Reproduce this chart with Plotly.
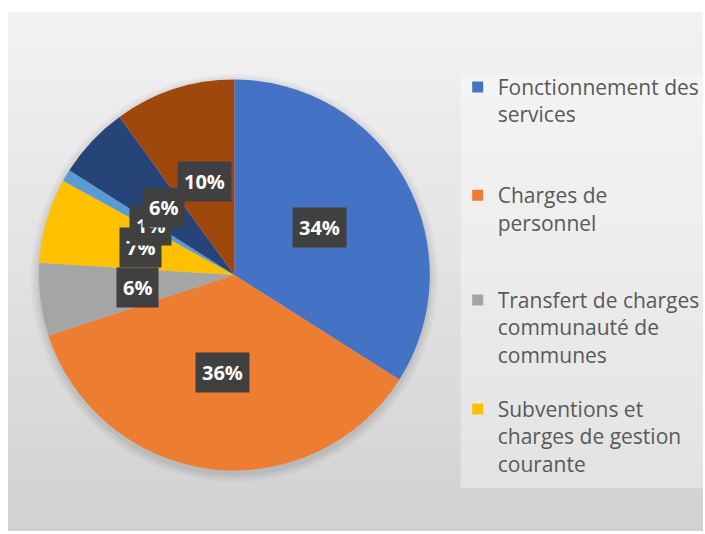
import numpy as np
import plotly.graph_objects as go

# ---------------- data ----------------
categories = [
    "Fonctionnement des services",
    "Charges de personnel",
    "Transfert de charges communauté de communes",
    "Subventions et charges de gestion courante",
    "Charges financières",
    "Atténuations de produits",
    "Virement à la section d'investissement",
]
values = [34, 36, 6, 7, 1, 6, 10]
legend_labels = [
    "Fonctionnement des<br>services",
    "Charges de<br>personnel",
    "Transfert de charges<br>communauté de<br>communes",
    "Subventions et<br>charges de gestion<br>courante",
]
colors = ["#4472C4", "#ED7D31", "#A5A5A5", "#FFC000", "#5B9BD5", "#264478", "#9E480E"]

# ---------------- geometry / style ----------------
W, H = 705, 534
CX, CY, R = 235, 275, 196          # pie centre and radius in pixels
FONT = "Open Sans"

fig = go.Figure()

fig.add_trace(go.Pie(
    labels=categories,
    values=values,
    sort=False,
    direction="clockwise",
    rotation=0,
    marker=dict(colors=colors, line=dict(width=0)),
    textinfo="none",
    hoverinfo="label+percent",
    showlegend=False,
    domain=dict(x=[(CX - R) / W, (CX + R) / W], y=[1 - (CY + R) / H, 1 - (CY - R) / H]),
))

# legend entries (only the first four are visible in the original chart)
legend_tops = [0.875, 0.672, 0.476, 0.272]
for i, lab in enumerate(legend_labels):
    lname = "legend" if i == 0 else f"legend{i + 1}"
    fig.add_trace(go.Scatter(
        x=[None], y=[None], mode="markers",
        marker=dict(symbol="square", size=11, color=colors[i]),
        name=lab, legend=lname, showlegend=True, hoverinfo="skip",
    ))
    fig.update_layout(**{lname: dict(
        x=459 / W, xanchor="left", y=legend_tops[i], yanchor="top",
        bgcolor="rgba(0,0,0,0)", borderwidth=0, valign="top",
        font=dict(family=FONT, size=21, color="#595959"),
        itemclick=False, itemdoubleclick=False,
    )})

# data labels: dark boxes at half radius on each slice's mid-angle
total = float(sum(values))
cum = np.cumsum(values)
annotations = []
for v, c in zip(values, cum):
    mid = (c - v / 2.0) / total * 2 * np.pi
    px = CX + 0.5 * R * np.sin(mid)
    py = CY - 0.5 * R * np.cos(mid)
    annotations.append(dict(
        x=px / W, y=1 - py / H, xref="paper", yref="paper",
        xanchor="center", yanchor="middle",
        text=f"<b>{v}%</b>", showarrow=False,
        font=dict(family=FONT, size=20, color="white"),
        bgcolor="#404040", borderpad=6,
    ))

# background: light grey vertical gradient + lighter legend panel
shapes = []
top, bottom, left = 12, 531, 8
n = 30
c0, c1 = np.array([243, 243, 243]), np.array([210, 210, 210])
for k in range(n):
    y0 = top + (bottom - top) * k / n
    y1 = min(bottom, top + (bottom - top) * (k + 1) / n + 2)
    col = c0 + (c1 - c0) * (k + 0.5) / n
    shapes.append(dict(
        type="rect", xref="paper", yref="paper", layer="below",
        x0=left / W, x1=1, y0=1 - y1 / H, y1=1 - y0 / H,
        fillcolor=f"rgb({int(col[0])},{int(col[1])},{int(col[2])})",
        line=dict(width=0),
    ))
shapes.append(dict(
    type="rect", xref="paper", yref="paper", layer="below",
    x0=462 / W, x1=1, y0=1 - 488 / H, y1=1 - 75 / H,
    fillcolor="rgba(255,255,255,0.35)", line=dict(width=0),
))
# soft shadow around the pie
for grow, alpha in [(8, 0.03), (5, 0.04), (2, 0.05)]:
    shapes.append(dict(
        type="circle", xref="paper", yref="paper", layer="below",
        x0=(CX - R - grow) / W, x1=(CX + R + grow) / W,
        y0=1 - (CY + R + grow + 3) / H, y1=1 - (CY - R - grow + 3) / H,
        fillcolor=f"rgba(0,0,0,{alpha})", line=dict(width=0),
    ))

fig.update_layout(
    width=W, height=H,
    margin=dict(l=0, r=0, t=0, b=0),
    paper_bgcolor="white",
    plot_bgcolor="rgba(0,0,0,0)",
    xaxis=dict(visible=False),
    yaxis=dict(visible=False),
    annotations=annotations,
    shapes=shapes,
    font=dict(family=FONT),
)

fig.write_html(
    "out.html",
    config={"displayModeBar": False},
    post_script="document.body.style.margin='0px';document.body.style.overflow='hidden';",
)
